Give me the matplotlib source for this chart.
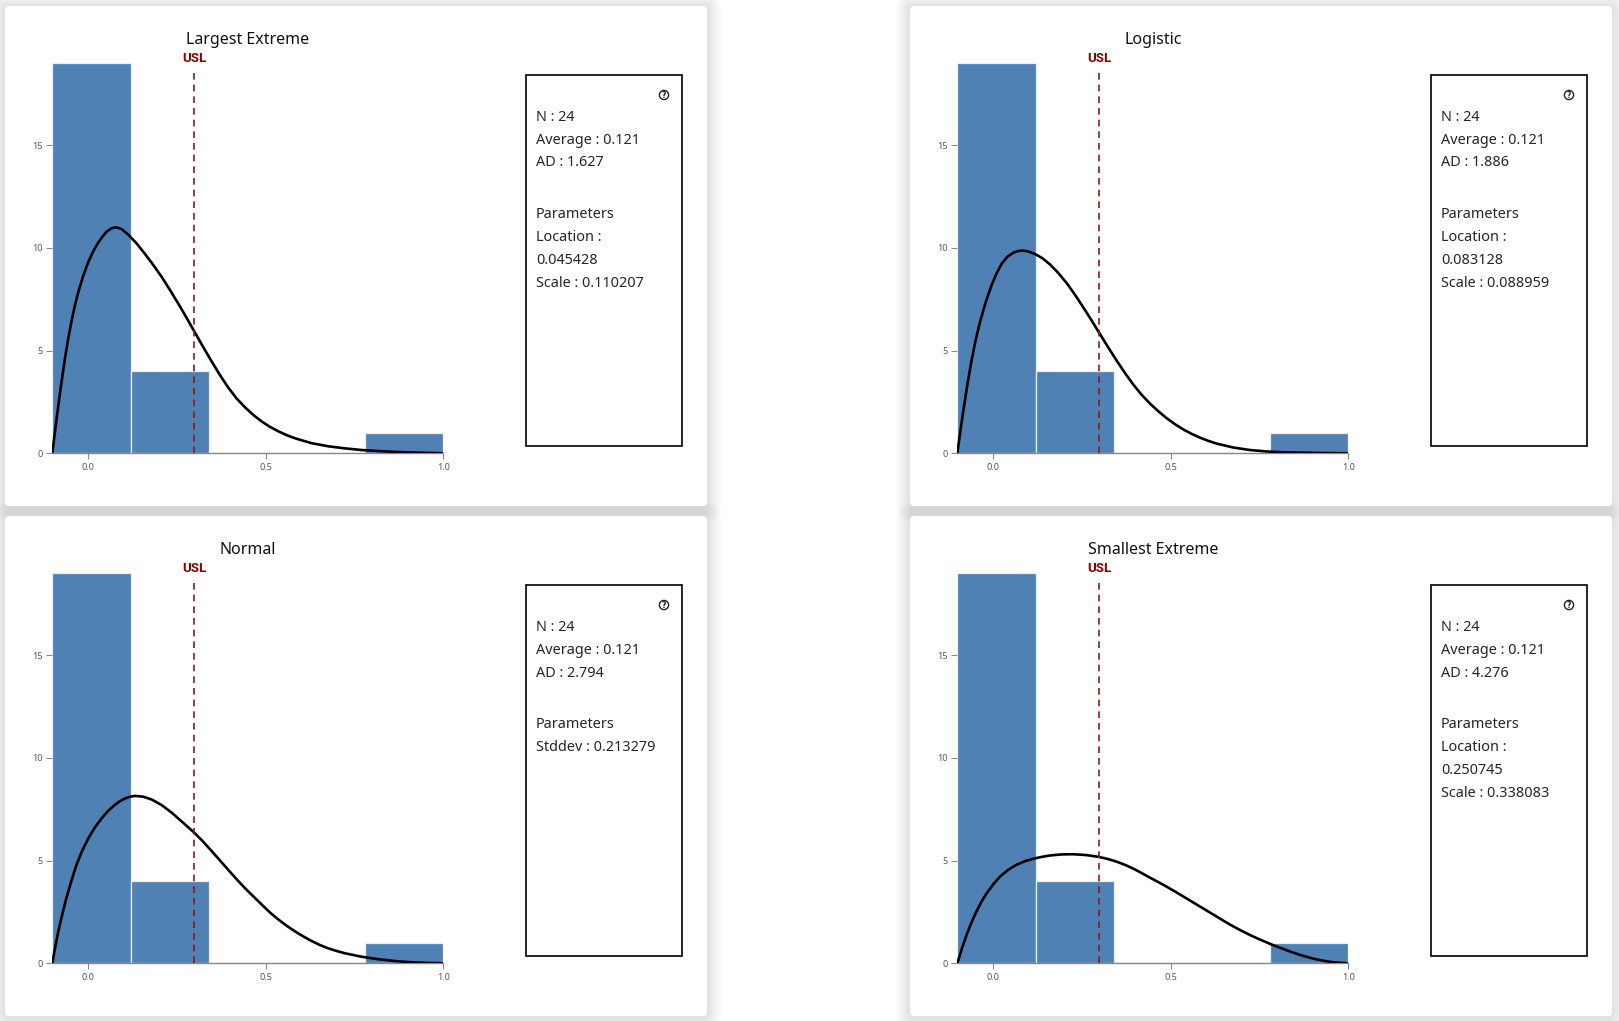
import matplotlib
matplotlib.use('Agg')
import matplotlib.pyplot as plt
from matplotlib.patches import FancyBboxPatch, Rectangle, Circle
import numpy as np

W, H = 1619, 1021
plt.rcParams['font.family'] = ['Noto Sans', 'DejaVu Sans']

# ---------------- data ----------------
bin_edges = [-0.1, 0.12, 0.34, 0.56, 0.78, 1.0]
counts = [19, 4, 0, 0, 1]
usl = 0.3
x_ticks = [0.0, 0.5, 1.0]
x_tick_labels = ["0.0", "0.5", "1.0"]
y_ticks = [0, 5, 10, 15]
y_tick_labels = ["0", "5", "10", "15"]

titles = ["Largest Extreme", "Logistic", "Normal", "Smallest Extreme"]

largest_x = [-0.100, -0.088, -0.076, -0.064, -0.055, -0.046, -0.036, -0.027, -0.013, 0.001,
             0.015, 0.029, 0.040, 0.052, 0.067, 0.080, 0.095, 0.114, 0.137, 0.161,
             0.184, 0.208, 0.231, 0.255, 0.277, 0.298, 0.323, 0.348, 0.372, 0.395,
             0.418, 0.442, 0.466, 0.489, 0.512, 0.536, 0.560, 0.583, 0.630, 0.677,
             0.723, 0.770, 0.817, 0.864, 0.911, 0.955, 1.000]
largest_y = [0.00, 1.68, 3.24, 4.66, 5.60, 6.43, 7.23, 7.84, 8.64, 9.30,
             9.83, 10.25, 10.52, 10.78, 10.96, 11.00, 10.92, 10.64, 10.22, 9.70,
             9.17, 8.58, 7.95, 7.27, 6.62, 5.98, 5.22, 4.48, 3.80, 3.20,
             2.68, 2.24, 1.86, 1.55, 1.29, 1.07, 0.88, 0.73, 0.49, 0.34,
             0.24, 0.16, 0.11, 0.07, 0.04, 0.02, 0.00]

logistic_x = [-0.100, -0.092, -0.083, -0.072, -0.060, -0.048, -0.036, -0.020, -0.003, 0.011,
              0.025, 0.041, 0.058, 0.071, 0.084, 0.100, 0.119, 0.140, 0.161, 0.184,
              0.208, 0.231, 0.255, 0.277, 0.298, 0.323, 0.348, 0.372, 0.395, 0.418,
              0.442, 0.466, 0.489, 0.512, 0.536, 0.560, 0.583, 0.607, 0.630, 0.677,
              0.723, 0.770, 0.817, 0.910, 1.000]
logistic_y = [0.00, 1.00, 2.08, 3.31, 4.51, 5.54, 6.40, 7.36, 8.21, 8.78,
              9.23, 9.57, 9.77, 9.85, 9.87, 9.82, 9.70, 9.49, 9.19, 8.78,
              8.28, 7.72, 7.09, 6.49, 5.90, 5.20, 4.52, 3.90, 3.35, 2.86,
              2.42, 2.04, 1.71, 1.42, 1.16, 0.94, 0.76, 0.60, 0.47, 0.28,
              0.16, 0.09, 0.05, 0.02, 0.00]

normal_x = [-0.100, -0.092, -0.083, -0.072, -0.060, -0.046, -0.032, -0.016, 0.001, 0.020,
            0.039, 0.057, 0.076, 0.090, 0.105, 0.119, 0.133, 0.156, 0.180, 0.208,
            0.236, 0.267, 0.298, 0.323, 0.348, 0.372, 0.395, 0.418, 0.442, 0.466,
            0.489, 0.512, 0.536, 0.560, 0.583, 0.607, 0.630, 0.653, 0.676, 0.700,
            0.723, 0.770, 0.817, 0.864, 0.911, 0.955, 1.000]
normal_y = [0.00, 0.77, 1.56, 2.38, 3.20, 4.03, 4.79, 5.48, 6.07, 6.62,
            7.06, 7.42, 7.71, 7.89, 8.03, 8.11, 8.15, 8.11, 7.97, 7.70,
            7.33, 6.86, 6.38, 5.95, 5.47, 5.00, 4.55, 4.10, 3.66, 3.25,
            2.86, 2.48, 2.13, 1.82, 1.55, 1.30, 1.08, 0.89, 0.73, 0.60,
            0.49, 0.32, 0.20, 0.11, 0.05, 0.02, 0.00]

smallest_x = [-0.100, -0.087, -0.074, -0.060, -0.046, -0.032, -0.017, 0.001, 0.020, 0.043,
              0.067, 0.093, 0.119, 0.140, 0.161, 0.193, 0.226, 0.262, 0.298, 0.323,
              0.348, 0.372, 0.395, 0.418, 0.442, 0.466, 0.489, 0.512, 0.536, 0.560,
              0.583, 0.607, 0.630, 0.653, 0.676, 0.700, 0.723, 0.747, 0.770, 0.793,
              0.817, 0.840, 0.864, 0.888, 0.911, 0.935, 0.958, 0.980, 1.000]
smallest_y = [0.00, 0.72, 1.38, 1.99, 2.53, 3.00, 3.42, 3.84, 4.22, 4.55,
              4.80, 4.99, 5.11, 5.19, 5.25, 5.30, 5.31, 5.27, 5.18, 5.08,
              4.95, 4.79, 4.61, 4.40, 4.17, 3.95, 3.73, 3.50, 3.25, 3.00,
              2.76, 2.51, 2.27, 2.03, 1.80, 1.58, 1.38, 1.19, 1.02, 0.85,
              0.70, 0.55, 0.41, 0.29, 0.19, 0.11, 0.05, 0.02, 0.00]

curves_x = [largest_x, logistic_x, normal_x, smallest_x]
curves_y = [largest_y, logistic_y, normal_y, smallest_y]

info_lines = [
    ["N : 24", "Average : 0.121", "AD : 1.627", "Parameters", "Location :", "0.045428", "Scale : 0.110207"],
    ["N : 24", "Average : 0.121", "AD : 1.886", "Parameters", "Location :", "0.083128", "Scale : 0.088959"],
    ["N : 24", "Average : 0.121", "AD : 2.794", "Parameters", "Stddev : 0.213279"],
    ["N : 24", "Average : 0.121", "AD : 4.276", "Parameters", "Location :", "0.250745", "Scale : 0.338083"],
]

# ---------------- layout (pixels) ----------------
col_off = 905
row_off = 510
card = (5, 6, 702, 500)
ax_left, ax_right, ax_top, ax_bottom = 52.3, 443.3, 63.0, 453.3
title_pos = (248, 40)
box = (525.5, 75.4, 156, 370.6)
text_x = 536
text_ys = [117.6, 140.4, 163.0, 214.7, 237.4, 260.0, 283.0]
icon_pos = (664, 95)

bar_color = '#4f81b5'
text_color = '#262626'
fig = plt.figure(figsize=(W / 100, H / 100), dpi=100)
fig.patch.set_facecolor('white')
bg = fig.add_axes([0, 0, 1, 1])
bg.set_xlim(0, W)
bg.set_ylim(H, 0)
bg.axis('off')

for r in range(2):
    for c in range(2):
        ox, oy = c * col_off, r * row_off
        x0, y0, w, h = card[0] + ox, card[1] + oy, card[2], card[3]
        for k in range(1, 16):
            bg.add_patch(FancyBboxPatch((x0 - k, y0 - k + 1), w + 2 * k, h + 2 * k,
                                        boxstyle=f"round,pad=0,rounding_size={4 + k}",
                                        fc='black', alpha=0.006, lw=0, zorder=0))
for r in range(2):
    for c in range(2):
        ox, oy = c * col_off, r * row_off
        x0, y0, w, h = card[0] + ox, card[1] + oy, card[2], card[3]
        bg.add_patch(FancyBboxPatch((x0, y0), w, h, boxstyle="round,pad=0,rounding_size=4",
                                    fc='white', ec='none', zorder=1))

for i in range(4):
    r, c = divmod(i, 2)
    ox, oy = c * col_off, r * row_off
    # title
    bg.text(title_pos[0] + ox, title_pos[1] + oy, titles[i], fontsize=11.5,
            ha='center', va='center', color='#111111', zorder=5)
    # info box
    bg.add_patch(Rectangle((box[0] + ox, box[1] + oy), box[2], box[3], fill=False,
                           ec='black', lw=1.2, zorder=5))
    for j, line in enumerate(info_lines[i]):
        bg.text(text_x + ox, text_ys[j] + oy, line, fontsize=10.4, ha='left', va='center',
                color=text_color, zorder=5)
    bg.add_patch(Circle((icon_pos[0] + ox, icon_pos[1] + oy), 4.6, fill=False,
                        ec='#222222', lw=1.0, zorder=5))
    bg.text(icon_pos[0] + ox, icon_pos[1] + oy + 0.3, "?", fontsize=5.5, fontweight='bold',
            family=['DejaVu Sans'], ha='center', va='center', color='#222222', zorder=5)

    # chart axes
    L, R = ax_left + ox, ax_right + ox
    T, B = ax_top + oy, ax_bottom + oy
    ax = fig.add_axes([L / W, 1 - B / H, (R - L) / W, (B - T) / H])
    ax.patch.set_alpha(0)
    ax.bar(bin_edges[:-1], counts, width=np.diff(bin_edges), align='edge',
           color=bar_color, edgecolor='#e8eef6', linewidth=0.9, zorder=1)
    ax.plot(curves_x[i], curves_y[i], color='black', lw=1.9, zorder=3,
            solid_joinstyle='round', solid_capstyle='round')
    ax.axvline(usl, ymin=0, ymax=0.982, color='#8b1a1a', lw=1.2, dashes=(4, 3), zorder=4)
    ax.annotate("USL", xy=(usl, 1.0), xycoords=('data', 'axes fraction'),
                xytext=(0, 3.2), textcoords='offset points', ha='center', va='center',
                fontsize=9.5, fontweight='bold', family=['Roboto', 'DejaVu Sans'],
                color='#8b0000', annotation_clip=False)
    ax.set_xlim(bin_edges[0], bin_edges[-1])
    ax.set_ylim(0, max(counts))
    for s in ['top', 'right', 'left']:
        ax.spines[s].set_visible(False)
    ax.spines['bottom'].set_color('#888888')
    ax.spines['bottom'].set_linewidth(1.0)
    ax.set_xticks(x_ticks)
    ax.set_xticklabels(x_tick_labels)
    ax.set_yticks(y_ticks)
    ax.set_yticklabels(y_tick_labels)
    ax.tick_params(axis='both', length=4.3, width=0.8, color='#888888',
                   labelsize=6.5, labelcolor='#555555', pad=2.5)

fig.savefig('out.png', dpi=100, facecolor='white')
